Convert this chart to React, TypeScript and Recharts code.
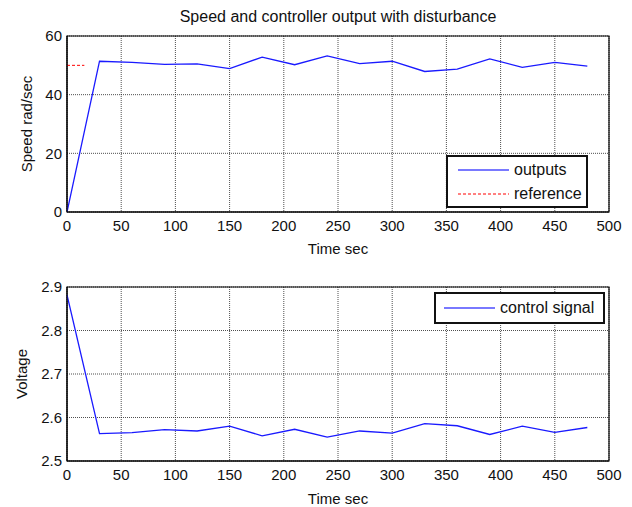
import React from 'react';
import { LineChart, Line, XAxis, YAxis, CartesianGrid, ReferenceArea, Label } from 'recharts';

const timeSec = [0, 30, 60, 90, 120, 150, 180, 210, 240, 270, 300, 330, 360, 390, 420, 450, 480];
const speedOutputs = [0, 51.4, 51.0, 50.3, 50.5, 48.9, 52.8, 50.2, 53.2, 50.6, 51.4, 47.9, 48.7, 52.2, 49.3, 51.0, 49.7];
const referenceTime = [0, 16];
const referenceSpeed = [50, 50];
const controlSignal = [2.882, 2.563, 2.565, 2.572, 2.569, 2.58, 2.558, 2.573, 2.555, 2.569, 2.564, 2.586, 2.581, 2.561, 2.58, 2.566, 2.577];
const xTicks = [0, 50, 100, 150, 200, 250, 300, 350, 400, 450, 500];
const speedTicks = [0, 20, 40, 60];
const voltageTicks = [2.5, 2.6, 2.7, 2.8, 2.9];

const speedData = timeSec.map((t, i) => ({ t, v: speedOutputs[i] }));
const refData = referenceTime.map((t, i) => ({ t, v: referenceSpeed[i] }));
const voltData = timeSec.map((t, i) => ({ t, v: controlSignal[i] }));

const FONT = '"Liberation Sans", Arial, Helvetica, sans-serif';
const tickStyle = { fontSize: 15, fill: '#111', fontFamily: FONT };
const labelStyle = { fontSize: 15, fill: '#111', fontFamily: FONT };

const legendBox: React.CSSProperties = {
  position: 'absolute',
  border: '2px solid #111',
  background: '#fff',
  boxSizing: 'border-box',
  fontFamily: FONT,
  fontSize: 16,
  color: '#111',
};

export default function App() {
  return (
    <div style={{ position: 'absolute', left: 0, top: 0, width: 632, height: 507, background: '#fff', fontFamily: FONT }}>
      <div style={{ position: 'absolute', left: 67, width: 542, top: 8, textAlign: 'center', fontSize: 16, color: '#111', lineHeight: '18px' }}>
        Speed and controller output with disturbance
      </div>
      <div style={{ position: 'absolute', left: 0, top: 0 }}>
        <LineChart width={632} height={262} margin={{ top: 36, right: 23, left: 0, bottom: 0 }}>
          <CartesianGrid stroke="#222" strokeDasharray="1 1" strokeWidth={0.8} />
          <XAxis
            dataKey="t"
            type="number"
            domain={[0, 500]}
            ticks={xTicks}
            allowDataOverflow
            height={50}
            tickSize={0}
            tickMargin={8}
            tick={tickStyle}
            stroke="#000"
            interval={0}
          >
            <Label value="Time sec" position="insideBottom" offset={8} style={labelStyle} />
          </XAxis>
          <YAxis
            type="number"
            domain={[0, 60]}
            ticks={speedTicks}
            width={67}
            tickSize={0}
            tickMargin={5}
            tick={tickStyle}
            stroke="#000"
            interval={0}
          >
            <Label value="Speed rad/sec" angle={-90} position="insideLeft" offset={27} style={{ ...labelStyle, textAnchor: 'middle' }} />
          </YAxis>
          <ReferenceArea x1={0} x2={500} y1={0} y2={60} fill="none" stroke="#000" strokeWidth={1.2} fillOpacity={0} />
          <Line data={speedData} dataKey="v" type="linear" stroke="#1a1aff" strokeWidth={1.3} dot={false} isAnimationActive={false} />
          <Line data={refData} dataKey="v" type="linear" stroke="#ff0000" strokeWidth={1} strokeDasharray="3 2" dot={false} isAnimationActive={false} />
        </LineChart>
      </div>
      <div style={{ position: 'absolute', left: 0, top: 262 }}>
        <LineChart width={632} height={245} margin={{ top: 25, right: 23, left: 0, bottom: 0 }}>
          <CartesianGrid stroke="#222" strokeDasharray="1 1" strokeWidth={0.8} />
          <XAxis
            dataKey="t"
            type="number"
            domain={[0, 500]}
            ticks={xTicks}
            allowDataOverflow
            height={46}
            tickSize={0}
            tickMargin={8}
            tick={tickStyle}
            stroke="#000"
            interval={0}
          >
            <Label value="Time sec" position="insideBottom" offset={3} style={labelStyle} />
          </XAxis>
          <YAxis
            type="number"
            domain={[2.5, 2.9]}
            ticks={voltageTicks}
            allowDataOverflow
            width={67}
            tickSize={0}
            tickMargin={5}
            tick={tickStyle}
            stroke="#000"
            interval={0}
            tickFormatter={(v: number) => v.toFixed(1)}
          >
            <Label value="Voltage" angle={-90} position="insideLeft" offset={22} style={{ ...labelStyle, textAnchor: 'middle' }} />
          </YAxis>
          <ReferenceArea x1={0} x2={500} y1={2.5} y2={2.9} fill="none" stroke="#000" strokeWidth={1.2} fillOpacity={0} />
          <Line data={voltData} dataKey="v" type="linear" stroke="#1a1aff" strokeWidth={1.3} dot={false} isAnimationActive={false} />
        </LineChart>
      </div>
      <div style={{ ...legendBox, left: 446, top: 155, width: 142, height: 53 }}>
        <svg width={140} height={49} style={{ position: 'absolute', left: 0, top: 0 }}>
          <line x1={10} x2={61} y1={13} y2={13} stroke="#4d4dff" strokeWidth={1.5} />
          <line x1={10} x2={61} y1={37} y2={37} stroke="#ff0000" strokeWidth={1} strokeDasharray="3 2" />
        </svg>
        <div style={{ position: 'absolute', left: 66, top: 4, lineHeight: '18px' }}>outputs</div>
        <div style={{ position: 'absolute', left: 66, top: 28, lineHeight: '18px' }}>reference</div>
      </div>
      <div style={{ ...legendBox, left: 434, top: 292, width: 171, height: 32 }}>
        <svg width={168} height={28} style={{ position: 'absolute', left: 0, top: 0 }}>
          <line x1={8} x2={59} y1={14} y2={14} stroke="#4d4dff" strokeWidth={1.5} />
        </svg>
        <div style={{ position: 'absolute', left: 64, top: 5, lineHeight: '18px' }}>control signal</div>
      </div>
    </div>
  );
}
